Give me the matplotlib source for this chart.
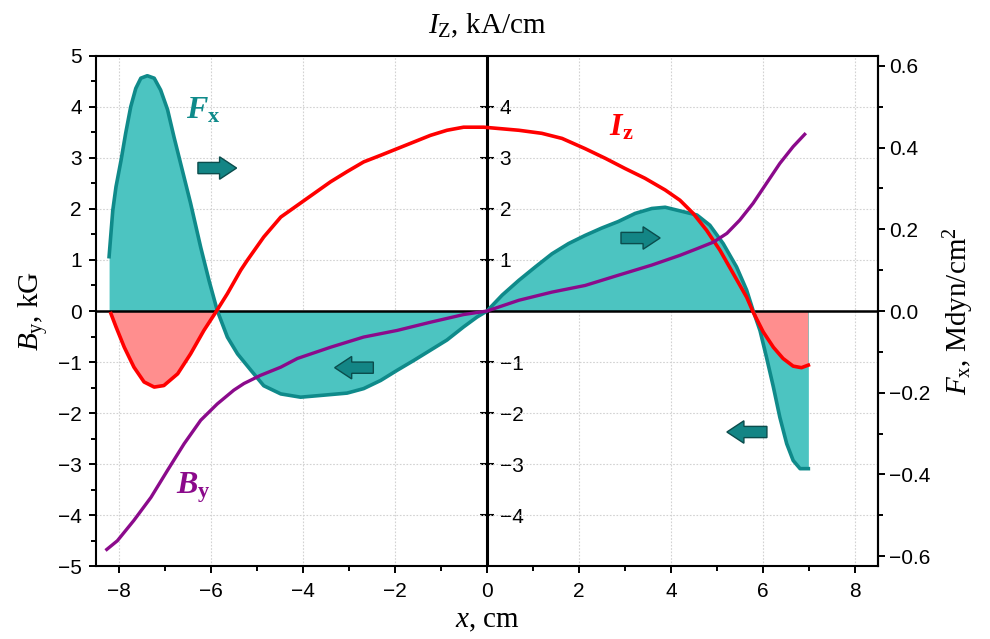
import matplotlib
matplotlib.use("Agg")
import matplotlib.pyplot as plt
import numpy as np
from matplotlib.patches import FancyArrow
from matplotlib.ticker import FixedLocator, MultipleLocator

plt.rcParams["font.family"] = "Liberation Sans"
plt.rcParams["mathtext.fontset"] = "custom"
plt.rcParams["mathtext.rm"] = "Liberation Serif"
plt.rcParams["mathtext.it"] = "Liberation Serif:italic"
plt.rcParams["mathtext.bf"] = "Liberation Serif:bold"
plt.rcParams["mathtext.bfit"] = "Liberation Serif:italic:bold"

# ---------------------------------------------------------
# Daten
# ---------------------------------------------------------
# F_x in Mdyn/cm^2
x_f = [-8.21, -8.13, -8.06, -7.95, -7.85, -7.74, -7.63, -7.52, -7.38, -7.23,
       -7.09, -6.94, -6.80, -6.62, -6.44, -6.22, -6.04, -5.86, -5.64, -5.42,
       -5.13, -4.85, -4.48, -4.05, -3.54, -3.04, -2.68, -2.31, -1.95, -1.59,
       -1.23, -0.87, -0.51, -0.22, 0.0, 0.33, 0.69, 1.05, 1.41, 1.77,
       2.13, 2.49, 2.85, 3.22, 3.58, 3.87, 4.16, 4.56, 4.84, 5.13,
       5.42, 5.64, 5.78, 5.93, 6.07, 6.22, 6.36, 6.51, 6.65, 6.80, 6.98]
fx = [0.133, 0.246, 0.304, 0.369, 0.435, 0.500, 0.545, 0.570, 0.576, 0.570,
      0.541, 0.493, 0.426, 0.345, 0.264, 0.156, 0.075, 0.001, -0.064, -0.105,
      -0.145, -0.183, -0.203, -0.211, -0.206, -0.201, -0.190, -0.170, -0.145, -0.121,
      -0.096, -0.071, -0.039, -0.015, 0.0, 0.039, 0.075, 0.108, 0.140, 0.165,
      0.185, 0.203, 0.219, 0.239, 0.251, 0.254, 0.246, 0.235, 0.210, 0.165,
      0.108, 0.051, 0.001, -0.048, -0.113, -0.186, -0.260, -0.325, -0.366, -0.386, -0.386]

# I_z in kA/cm
x_iz = [-8.17, -8.06, -7.88, -7.67, -7.45, -7.23, -7.02, -6.72, -6.44, -6.15,
        -5.89, -5.64, -5.35, -5.21, -4.85, -4.48, -4.12, -3.76, -3.40, -3.04,
        -2.68, -2.31, -1.95, -1.59, -1.23, -0.87, -0.51, -0.07, 0.69, 1.19,
        1.63, 2.13, 2.57, 3.00, 3.43, 3.87, 4.19, 4.48, 4.77, 5.06,
        5.35, 5.64, 5.78, 6.00, 6.22, 6.43, 6.65, 6.83, 6.98]
iz = [-0.05, -0.31, -0.71, -1.10, -1.39, -1.49, -1.46, -1.23, -0.84, -0.38,
      -0.02, 0.34, 0.80, 0.99, 1.45, 1.84, 2.07, 2.30, 2.53, 2.73,
      2.92, 3.05, 3.18, 3.31, 3.44, 3.54, 3.60, 3.60, 3.54, 3.48,
      3.38, 3.18, 2.99, 2.79, 2.60, 2.37, 2.17, 1.91, 1.58, 1.19,
      0.73, 0.27, -0.02, -0.41, -0.71, -0.93, -1.08, -1.11, -1.06]

# B_y in kG
x_by = [-8.26, -8.03, -7.67, -7.30, -6.94, -6.58, -6.22, -5.86, -5.50, -5.28,
        -4.92, -4.48, -4.12, -3.40, -2.68, -1.95, -1.23, -0.51, 0.0, 0.69,
        1.41, 2.13, 2.85, 3.58, 4.19, 4.56, 4.92, 5.21, 5.49, 5.78,
        6.07, 6.36, 6.65, 6.90]
by = [-4.67, -4.50, -4.10, -3.65, -3.12, -2.60, -2.14, -1.82, -1.55, -1.42,
      -1.26, -1.10, -0.93, -0.71, -0.51, -0.38, -0.22, -0.07, 0.0, 0.21,
      0.37, 0.50, 0.70, 0.90, 1.09, 1.22, 1.35, 1.52, 1.78, 2.11,
      2.50, 2.89, 3.22, 3.46]

# Pfeile: (Ende x, Spitze x, y)
arrows = [(-6.28, -5.44, 2.80), (-2.47, -3.31, -1.11),
          (2.91, 3.76, 1.43), (6.08, 5.21, -2.37)]

x_ticks = [-8, -6, -4, -2, 0, 2, 4, 6, 8]
y_ticks = [-5, -4, -3, -2, -1, 0, 1, 2, 3, 4, 5]
fx_ticks = [-0.6, -0.4, -0.2, 0.0, 0.2, 0.4, 0.6]
fx_minor = [-0.5, -0.3, -0.1, 0.1, 0.3, 0.5]
iz_ticks = [-4, -3, -2, -1, 1, 2, 3, 4]

# Verhältnis linke Achse / rechte Achse
K = 8.0

c_teal = "#0f8a8a"
c_teal_fill = "#4cc4c1"
c_red = "#ff0000"
c_pink = "#ff8e8e"
c_purple = "#8b0a8b"

x_f = np.array(x_f); fx = np.array(fx)
x_iz = np.array(x_iz); iz = np.array(iz)

fig = plt.figure(figsize=(9.9, 6.39), dpi=100)
ax = fig.add_axes([0.0967, 0.1138, 0.7905, 0.799])

ax.set_xlim(-8.5, 8.5)
ax.set_ylim(-5, 5)
ax.set_axisbelow(True)
ax.grid(True, which="major", ls=(0, (1.5, 1.5)), color="#d2d2d2", lw=0.8)

# Flächen
ax.fill_between(x_f, 0, fx * K, color=c_teal_fill, lw=0, zorder=1.5)
ax.fill_between(x_iz, 0, iz, where=iz <= 0, interpolate=True,
                color=c_pink, lw=0, zorder=1.6)
ax.axhline(0, color="black", lw=1.8, zorder=2.5)
ax.axvline(0, color="black", lw=2.2, zorder=2.5)

# Kurven
ax.plot(x_f, fx * K, color=c_teal, lw=2.6, zorder=3, solid_joinstyle="round")
ax.plot(x_iz, iz, color=c_red, lw=2.6, zorder=3.1, solid_joinstyle="round")
ax.plot(x_by, by, color=c_purple, lw=2.4, zorder=3.2, solid_joinstyle="round")

for x0, x1, y0 in arrows:
    ax.add_patch(FancyArrow(x0, y0, x1 - x0, 0, width=0.22, head_width=0.44,
                            head_length=0.37, length_includes_head=True,
                            facecolor="#138585", edgecolor="#0b4c4c", lw=1.0,
                            zorder=4))

# Kurvenbeschriftungen
ax.text(-6.54, 3.77, r"$\mathbfit{F}_{\mathbf{x}}$", color=c_teal, fontsize=23,
        ha="left", va="baseline")
ax.text(2.64, 3.44, r"$\mathbfit{I}_{\mathbf{z}}$", color=c_red, fontsize=23,
        ha="left", va="baseline")
ax.text(-6.76, -3.57, r"$\mathbfit{B}_{\mathbf{y}}$", color=c_purple, fontsize=23,
        ha="left", va="baseline")

# Achsen
ax.set_xticks(x_ticks)
ax.xaxis.set_minor_locator(MultipleLocator(1))
ax.set_yticks(y_ticks)
ax.yaxis.set_minor_locator(MultipleLocator(0.5))
ax.tick_params(which="both", top=False, right=False, width=1.4, labelsize=15)
ax.tick_params(which="major", length=5)
ax.tick_params(which="minor", length=3.5)
ax.tick_params(axis="y", pad=5)
ax.tick_params(axis="x", pad=6)
for s in ax.spines.values():
    s.set_linewidth(1.5)

ax.set_xlabel(r"$x$, cm", fontsize=21, family="Liberation Serif", labelpad=5)
ax.set_ylabel(r"$B_{\mathrm{y}}$, kG", fontsize=21, family="Liberation Serif",
              labelpad=6)

sec = ax.secondary_yaxis("right", functions=(lambda y: y / K, lambda f: f * K))
sec.yaxis.set_major_locator(FixedLocator(fx_ticks))
sec.yaxis.set_minor_locator(FixedLocator(fx_minor))
sec.set_yticklabels([f"{v:.1f}".replace("-", "\u2212") for v in fx_ticks])
sec.tick_params(which="both", width=1.4, labelsize=15, pad=3)
sec.tick_params(which="major", length=5)
sec.tick_params(which="minor", length=3.5)
sec.spines["right"].set_linewidth(1.5)
sec.set_ylabel(r"$F_{\mathrm{x}}$, Mdyn/cm$^{2}$", fontsize=21,
               family="Liberation Serif", labelpad=8)

# I_z-Achse bei x = 0
iz_ax = ax.secondary_yaxis(0.5)
iz_ax.set_alignment("right")
iz_ax.set_yticks(iz_ticks)
iz_ax.tick_params(direction="inout", length=10, width=1.5, labelsize=15, pad=4)
for s in iz_ax.spines.values():
    s.set_visible(False)
ax.text(0.5, 1.044, r"$I_{\mathrm{Z}}$, kA/cm", transform=ax.transAxes,
        fontsize=21, family="Liberation Serif", ha="center", va="baseline")

fig.savefig("out.png", dpi=100)
